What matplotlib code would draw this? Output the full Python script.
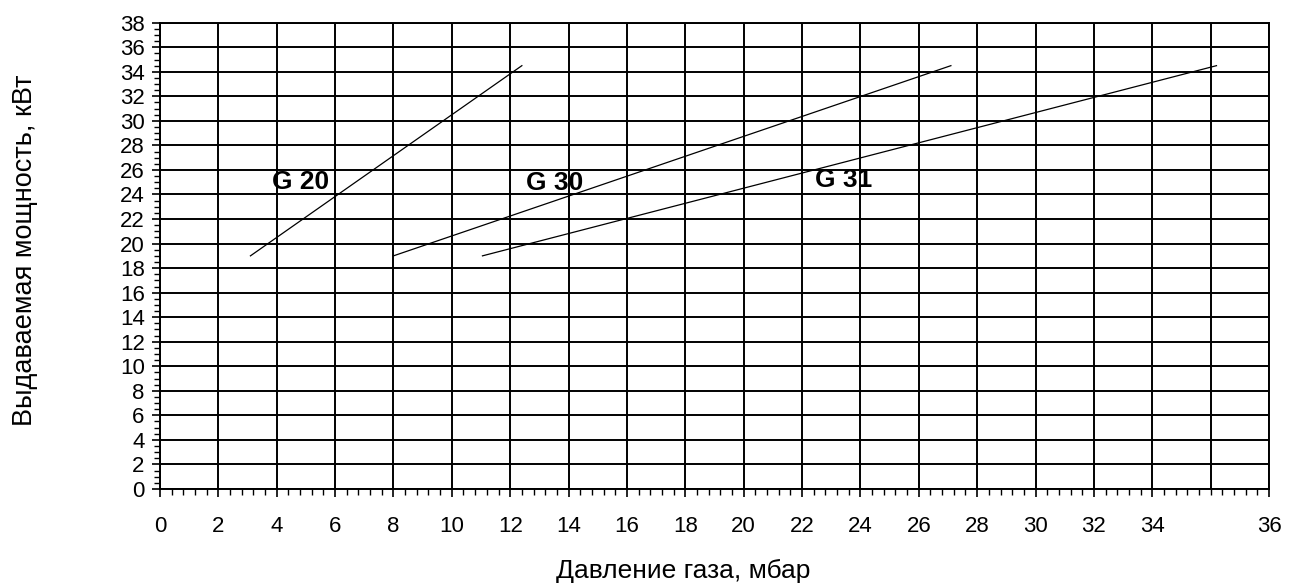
import matplotlib
matplotlib.use("Agg")
import matplotlib.pyplot as plt
import numpy as np

plt.rcParams['font.family'] = ['Liberation Sans', 'DejaVu Sans']

# Data (pressure mbar, power kW)
g20_x = [3.1, 12.4]
g20_y = [19.0, 34.5]
g30_x = [8.0, 27.1]
g30_y = [19.0, 34.5]
g31_x = [11.05, 36.2]
g31_y = [19.0, 34.5]

series_labels = ["G 20", "G 30", "G 31"]
label_pos_x = [3.85, 12.55, 22.45]
label_pos_y = [25.0, 24.9, 25.2]

xtick_pos = [0, 2, 4, 6, 8, 10, 12, 14, 16, 18, 20, 22, 24, 26, 28, 30, 32, 34, 38]
xtick_labels = ['0', '2', '4', '6', '8', '10', '12', '14', '16', '18', '20', '22',
                '24', '26', '28', '30', '32', '34', '36']
ytick_pos = list(range(0, 39, 2))
ytick_labels = [str(v) for v in ytick_pos]

xlabel = "Давление газа, мбар"
ylabel = "Выдаваемая мощность, кВт"

fig = plt.figure(figsize=(12.89, 5.84), dpi=100)
ax = fig.add_axes([0.1241, 0.1627, 0.8604, 0.7984])
ax.set_xlim(0, 38)
ax.set_ylim(0, 38)

# grid
for gx in range(0, 39, 2):
    ax.axvline(gx, color='black', lw=1.4, zorder=1)
for gy in range(0, 39, 2):
    ax.axhline(gy, color='black', lw=1.4, zorder=1)

for xs, ys in [(g20_x, g20_y), (g30_x, g30_y), (g31_x, g31_y)]:
    ax.plot(xs, ys, color='black', lw=0.9, zorder=3)

for lab, lx, ly in zip(series_labels, label_pos_x, label_pos_y):
    ax.text(lx, ly, lab, fontsize=19, fontweight='bold', ha='left', va='center', zorder=4)

ax.set_xticks(xtick_pos)
ax.set_xticklabels(xtick_labels, fontsize=16)
ax.set_yticks(ytick_pos)
ax.set_yticklabels(ytick_labels, fontsize=16)
ax.set_xticks(np.arange(0, 38.01, 0.4), minor=True)
ax.set_yticks(np.arange(0, 38.01, 0.5), minor=True)
ax.tick_params(axis='both', which='major', length=6, width=1.2, direction='out')
ax.tick_params(axis='both', which='minor', length=4, width=1.0, direction='out')
ax.tick_params(axis='y', which='major', pad=5)
ax.tick_params(axis='x', which='major', pad=13.5)

for s in ax.spines.values():
    s.set_linewidth(1.4)

fig.text(0.5297, 1 - 578 / 584, xlabel, fontsize=19, ha='center', va='baseline')
fig.text(25 / 1289, 1 - 250 / 584, ylabel, fontsize=19.5, ha='center', va='center', rotation=90)

fig.savefig("out.png", dpi=100)
